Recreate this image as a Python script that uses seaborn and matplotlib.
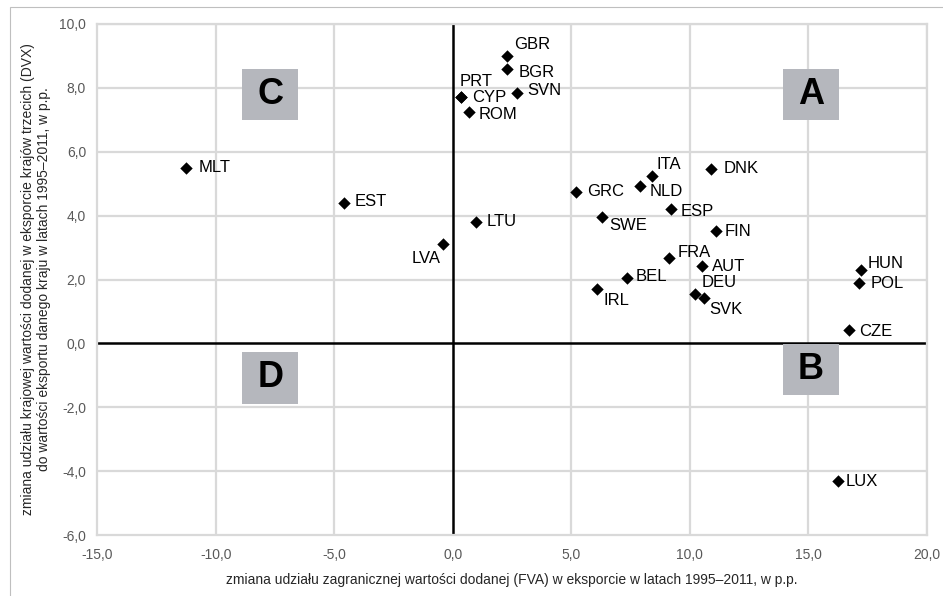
import matplotlib
matplotlib.use("Agg")
import matplotlib.pyplot as plt
import seaborn as sns
import pandas as pd
from matplotlib.patches import Rectangle

# data
countries = ["GBR", "BGR", "SVN", "PRT", "CYP", "ROM", "MLT", "EST", "LTU", "LVA",
             "ITA", "DNK", "GRC", "NLD", "ESP", "SWE", "FIN", "FRA", "AUT", "BEL",
             "IRL", "DEU", "SVK", "HUN", "POL", "CZE", "LUX"]
fva = [2.3, 2.3, 2.7, 0.35, 0.35, 0.7, -11.25, -4.6, 1.0, -0.4,
       8.4, 10.9, 5.2, 7.9, 9.2, 6.3, 11.1, 9.1, 10.5, 7.35,
       6.1, 10.2, 10.6, 17.2, 17.15, 16.7, 16.25]
dva = [9.0, 8.6, 7.85, 7.7, 7.7, 7.25, 5.5, 4.4, 3.8, 3.1,
       5.25, 5.47, 4.75, 4.94, 4.22, 3.97, 3.53, 2.66, 2.41, 2.06,
       1.69, 1.56, 1.41, 2.31, 1.9, 0.41, -4.3]
quadrants = ["C", "A", "D", "B"]

x_label = "zmiana udziału zagranicznej wartości dodanej (FVA) w eksporcie w latach 1995–2011, w p.p."
y_label = ("zmiana udziału krajowej wartości dodanej w eksporcie krajów trzecich (DVX)\n"
           "do wartości eksportu danego kraju w latach 1995–2011, w p.p.")

# label offsets in pixels (dx, dy)
label_pos = {
    "GBR": (7, 11), "BGR": (11, -4), "SVN": (10, 2), "PRT": (-1, 16), "CYP": (11, 0),
    "ROM": (9, -3), "MLT": (13, 0), "EST": (11, 1), "LTU": (10, 0), "LVA": (-3, -14),
    "ITA": (5, 11), "DNK": (12, 0), "GRC": (11, 0), "NLD": (10, -6), "ESP": (10, -3),
    "SWE": (7, -9), "FIN": (9, -1), "FRA": (9, 6), "AUT": (10, 0), "BEL": (9, 1),
    "IRL": (6, -11), "DEU": (7, 11), "SVK": (5, -11), "HUN": (7, 6), "POL": (11, -1),
    "CZE": (10, -1), "LUX": (8, -1),
}
# quadrant box centres in data units
quad_pos = {"C": (-7.7, 7.8), "A": (15.1, 7.8), "D": (-7.7, -1.08), "B": (15.1, -0.81)}

df = pd.DataFrame({"country": countries, "fva": fva, "dva": dva})

sns.set_style("white")
plt.rcParams["font.family"] = ["Liberation Sans", "DejaVu Sans"]

fig = plt.figure(figsize=(9.43, 5.96), dpi=100)
ax = fig.add_axes([0.103, 0.102, 0.880, 0.858])

grid_c = "#d9d9d9"
for xv in range(-10, 25, 5):
    if xv != 0:
        ax.axvline(xv, color=grid_c, lw=1.6, zorder=0)
for yv in range(-4, 12, 2):
    if yv != 0:
        ax.axhline(yv, color=grid_c, lw=1.6, zorder=0)
ax.axvline(0, color="black", lw=1.8, zorder=1)
ax.axhline(0, color="black", lw=1.8, zorder=1)

sns.scatterplot(data=df, x="fva", y="dva", marker="D", s=40, color="black",
                edgecolor="black", linewidth=0, ax=ax, zorder=3, legend=False)

for c, x, y in zip(countries, fva, dva):
    dx, dy = label_pos[c]
    ha = "right" if c == "LVA" else "left"
    ax.annotate(c, (x, y), xytext=(dx, dy), textcoords="offset pixels",
                ha=ha, va="center", fontsize=12, color="black", zorder=4)

bw, bh = 2.36, 1.6
for q in quadrants:
    cx, cy = quad_pos[q]
    ax.add_patch(Rectangle((cx - bw / 2, cy - bh / 2), bw, bh, facecolor="#b5b7bd",
                           edgecolor="none", zorder=2))
    ax.text(cx, cy, q, ha="center", va="center", fontsize=26, fontweight="bold",
            color="black", zorder=3)

ax.set_xlim(-15, 20)
ax.set_ylim(-6, 10)
ax.set_xticks(range(-15, 25, 5))
ax.set_yticks(range(-6, 12, 2))
ax.set_xticklabels([f"{v:.1f}".replace(".", ",") for v in range(-15, 25, 5)])
ax.set_yticklabels([f"{v:.1f}".replace(".", ",") for v in range(-6, 12, 2)])
ax.tick_params(axis="x", length=0, labelsize=10, labelcolor="#595959", pad=9)
ax.tick_params(axis="y", length=0, labelsize=10, labelcolor="#595959", pad=8)

for side in ["left", "bottom", "right", "top"]:
    ax.spines[side].set_visible(True)
    ax.spines[side].set_color(grid_c)
    ax.spines[side].set_linewidth(1.6)

ax.set_xlabel(x_label, fontsize=10, color="#262626", labelpad=8)
ax.set_ylabel(y_label, fontsize=10, color="#262626", labelpad=6)

fig.patches.append(Rectangle((10 / 943, -0.5), 2, 1.5 - 7 / 596, transform=fig.transFigure,
                             fill=False, edgecolor="#bfbfbf", lw=0.8))

fig.savefig("out.png", dpi=100)
